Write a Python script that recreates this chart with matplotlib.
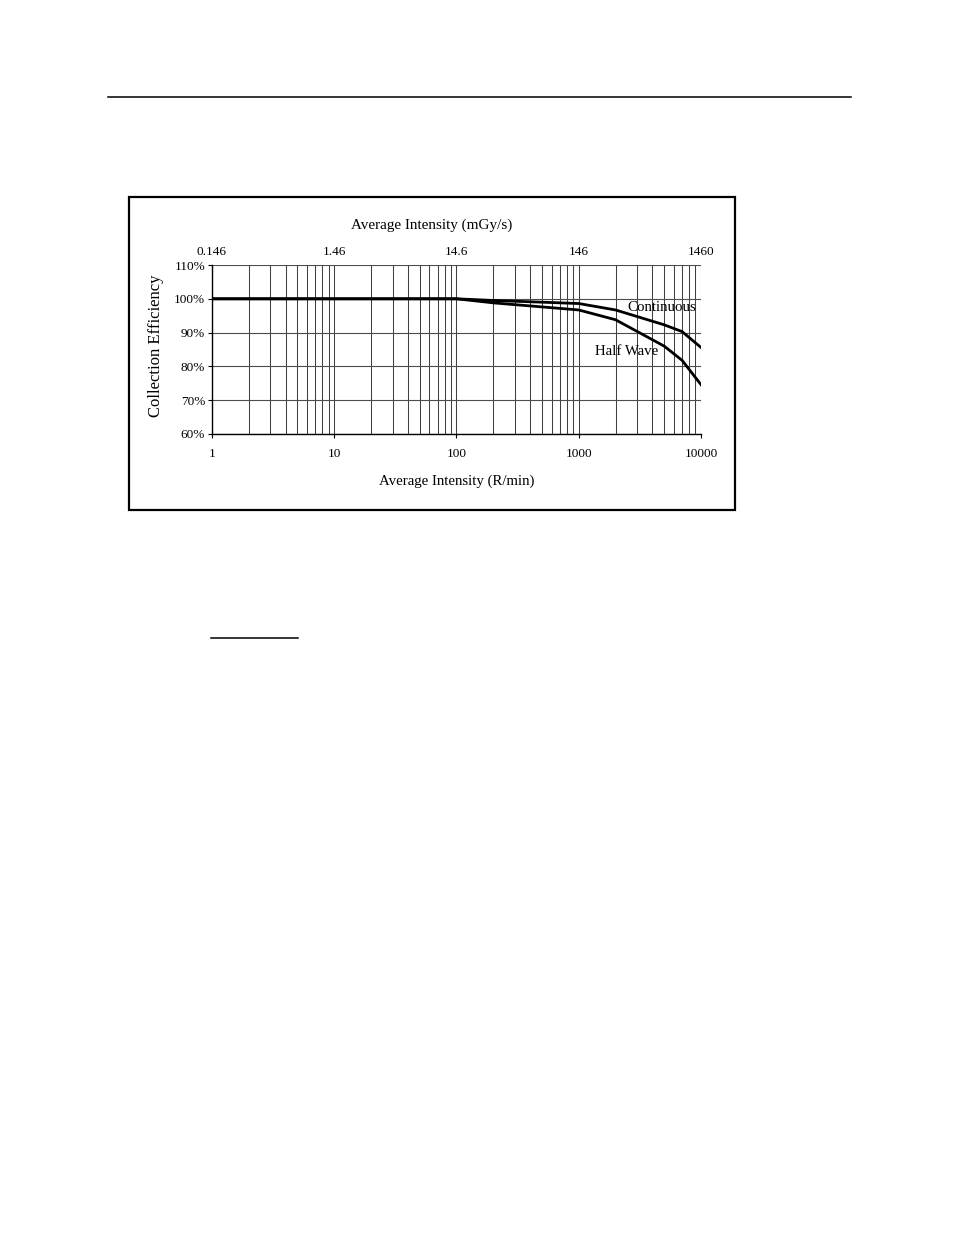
import numpy as np
import matplotlib
matplotlib.use("Agg")
import matplotlib.pyplot as plt
from matplotlib.patches import Rectangle
from matplotlib.lines import Line2D
from matplotlib.ticker import FixedLocator, NullLocator

plt.rcParams['font.family'] = ['Liberation Serif', 'DejaVu Serif']

# intensity in R/min and the matching mGy/s labels on the top axis
intensity = [1, 10, 100, 200, 500, 1000, 2000, 5000, 7000, 10000]
continuous = [100, 100, 100, 99.5, 99.0, 98.6, 96.7, 92.3, 90.3, 85.6]
half_wave = [100, 100, 100, 98.8, 97.6, 96.7, 93.8, 86.0, 81.8, 74.6]

bottom_ticks = [1, 10, 100, 1000, 10000]
bottom_labels = ['1', '10', '100', '1000', '10000']
top_labels = ['0.146', '1.46', '14.6', '146', '1460']
y_ticks = [60, 70, 80, 90, 100, 110]

W, H = 954, 1235
fig = plt.figure(figsize=(W / 100, H / 100), dpi=100)

def fx(px):
    return px / W

def fy(py):
    return 1 - py / H

# page decorations
fig.add_artist(Line2D([fx(108), fx(851)], [fy(97), fy(97)], color='black', lw=1.1))
fig.add_artist(Line2D([fx(211), fx(298)], [fy(638), fy(638)], color='black', lw=1.1))
fig.add_artist(Rectangle((fx(129), fy(510)), fx(735) - fx(129), fy(197) - fy(510),
                         fill=False, edgecolor='black', lw=1.6))

ax = fig.add_axes([fx(212), fy(434), fx(701) - fx(212), fy(265) - fy(434)])
ax.set_xscale('log')
ax.set_xlim(1, 10000)
ax.set_ylim(60, 110)

# grid: every log step vertically, 10% steps horizontally
minor = [m * 10 ** e for e in range(4) for m in range(1, 10)] + [10000]
for v in minor:
    ax.axvline(v, color='0.25', lw=0.75, zorder=1)
for yv in y_ticks:
    ax.axhline(yv, color='0.3', lw=0.8, zorder=1)

ax.plot(intensity, half_wave, color='black', lw=2.0, zorder=3)
ax.plot(intensity, continuous, color='black', lw=2.0, zorder=3)

ax.text(2480, 97.4, 'Continuous', fontsize=10.7, va='center', ha='left', zorder=4)
ax.text(1360, 84.3, 'Half Wave', fontsize=10.7, va='center', ha='left', zorder=4)

ax.xaxis.set_major_locator(FixedLocator(bottom_ticks))
ax.xaxis.set_minor_locator(NullLocator())
ax.set_xticklabels(bottom_labels)
ax.set_yticks(y_ticks)
ax.set_yticklabels(['%d%%' % v for v in y_ticks])
ax.tick_params(axis='x', length=3, width=0.8, pad=7, labelsize=9.5)
ax.tick_params(axis='y', length=3, width=0.8, pad=2, labelsize=9.5)
for s in ['top', 'right']:
    ax.spines[s].set_visible(False)
for s in ['left', 'bottom']:
    ax.spines[s].set_linewidth(1.0)

top = ax.secondary_xaxis('top')
top.xaxis.set_major_locator(FixedLocator(bottom_ticks))
top.xaxis.set_minor_locator(NullLocator())
top.set_xticklabels(top_labels)
top.tick_params(axis='x', length=0, pad=5, labelsize=9.5)
top.spines['top'].set_visible(False)

fig.text(fx(432), fy(225), 'Average Intensity (mGy/s)', fontsize=10.9, ha='center', va='center')
fig.text(fx(457), fy(481), 'Average Intensity (R/min)', fontsize=10.7, ha='center', va='center')
fig.text(fx(156), fy(346), 'Collection Efficiency', fontsize=12, ha='center', va='center',
         rotation=90)

fig.savefig('out.png', dpi=100)
